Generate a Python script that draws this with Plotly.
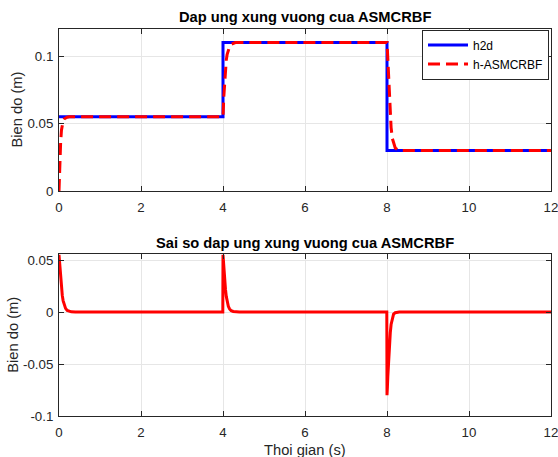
import plotly.graph_objects as go

# ---------------- data ----------------
t_ref = [0, 4, 4, 8, 8, 12]
h2d = [0.055, 0.055, 0.11, 0.11, 0.03, 0.03]

t_h = [0, 0.01, 0.02, 0.04, 0.06, 0.08, 0.1, 0.13, 0.16, 0.2, 0.25, 0.3, 3.99,
       4.0, 4.02, 4.04, 4.06, 4.08, 4.1, 4.13, 4.16, 4.2, 4.25, 4.3, 7.99,
       8.0, 8.02, 8.04, 8.06, 8.08, 8.1, 8.13, 8.16, 8.2, 8.25, 8.3, 12]
h_asm = [0, 0.012, 0.022, 0.036, 0.045, 0.049, 0.052, 0.0535, 0.0543, 0.0547, 0.055, 0.055, 0.055,
         0.055, 0.07, 0.082, 0.091, 0.097, 0.101, 0.105, 0.107, 0.1087, 0.1095, 0.11, 0.11,
         0.11, 0.098, 0.083, 0.068, 0.056, 0.047, 0.039, 0.035, 0.032, 0.0307, 0.030, 0.030]

t_e = [0, 0.02, 0.04, 0.06, 0.08, 0.1, 0.13, 0.16, 0.2, 0.25, 0.3, 0.4, 3.995,
       4.0, 4.02, 4.04, 4.06, 4.08, 4.1, 4.13, 4.16, 4.2, 4.25, 4.3, 4.4, 7.995,
       8.0, 8.01, 8.02, 8.03, 8.04, 8.05, 8.06, 8.08, 8.1, 8.13, 8.16, 8.2, 8.3, 12]
err = [0.055, 0.043, 0.032, 0.024, 0.016, 0.011, 0.006, 0.0035, 0.0015, 0.0006, 0.0002, 0, 0,
       0.055, 0.042, 0.031, 0.022, 0.015, 0.010, 0.0055, 0.003, 0.0013, 0.0005, 0.0002, 0, 0,
       -0.08, -0.072, -0.062, -0.052, -0.043, -0.036, -0.03, -0.02, -0.012, -0.005, -0.002, -0.0007, 0, 0]

x_ticks = [0, 2, 4, 6, 8, 10, 12]
y1_ticks = [0, 0.05, 0.1]
y1_labels = ["0", "0.05", "0.1"]
y2_ticks = [-0.1, -0.05, 0, 0.05]
y2_labels = ["-0.1", "-0.05", "0", "0.05"]

title1 = "Dap ung xung vuong cua ASMCRBF"
title2 = "Sai so dap ung xung vuong cua ASMCRBF"
ylab = "Bien do (m)"
xlab = "Thoi gian (s)"

# ---------------- layout geometry ----------------
W, H = 558, 457
L, R = 59, 551
T1, B1 = 29, 191
T2, B2 = 254, 416


def py(p):
    return 1 - p / H


def px(p):
    return p / W


FONT = "Liberation Sans, Arial, Helvetica, sans-serif"
AX = "#262626"

fig = go.Figure()
fig.add_trace(go.Scatter(x=t_ref, y=h2d, mode="lines", name="h2d",
                         line=dict(color="#0000ff", width=3), xaxis="x", yaxis="y"))
fig.add_trace(go.Scatter(x=t_h, y=h_asm, mode="lines", name="h-ASMCRBF",
                         line=dict(color="#ff0000", width=3, dash="12px,6px"),
                         xaxis="x", yaxis="y"))
fig.add_trace(go.Scatter(x=t_e, y=err, mode="lines", showlegend=False,
                         line=dict(color="#ff0000", width=3), xaxis="x2", yaxis="y2"))

common_x = dict(range=[0, 12], tickvals=x_ticks, ticks="inside", ticklen=5,
                tickcolor=AX, showline=True, linecolor=AX, linewidth=1, mirror="ticks",
                showgrid=True, gridcolor="#e6e6e6", gridwidth=1, zeroline=False,
                tickfont=dict(family=FONT, size=13.3, color=AX), ticklabelstandoff=4,
                automargin=False, ticklabeloverflow="allow",
                domain=[px(L), px(R)])
common_y = dict(ticks="inside", ticklen=5, tickcolor=AX, showline=True, linecolor=AX,
                linewidth=1, mirror="ticks", showgrid=True, gridcolor="#e6e6e6",
                gridwidth=1, zeroline=False, automargin=False, ticklabeloverflow="allow",
                tickfont=dict(family=FONT, size=13.3, color=AX), ticklabelstandoff=2)

fig.update_layout(
    width=W, height=H, margin=dict(l=0, r=0, t=0, b=0, autoexpand=False),
    paper_bgcolor="white", plot_bgcolor="white",
    xaxis=dict(**common_x, anchor="y"),
    yaxis=dict(**common_y, range=[0, 0.12], tickvals=y1_ticks, ticktext=y1_labels,
               domain=[py(B1), py(T1)], anchor="x"),
    xaxis2=dict(**common_x, anchor="y2"),
    yaxis2=dict(**common_y, range=[-0.1, 0.0558], tickvals=y2_ticks, ticktext=y2_labels,
                domain=[py(B2), py(T2)], anchor="x2"),
    legend=dict(x=px(549), y=py(29.5), xanchor="right", yanchor="top",
                bgcolor="white", bordercolor=AX, borderwidth=1,
                font=dict(family=FONT, size=12, color="black"),
                tracegroupgap=0, itemwidth=40),
    showlegend=True,
)

ann = [
    dict(text="<b>" + title1 + "</b>", x=px((L + R) / 2), y=py(17.5)),
    dict(text="<b>" + title2 + "</b>", x=px((L + R) / 2), y=py(243)),
]
for a in ann:
    fig.add_annotation(xref="paper", yref="paper", showarrow=False,
                       xanchor="center", yanchor="middle",
                       font=dict(family=FONT, size=14.7, color="black"), **a)

fig.add_annotation(text=ylab, xref="paper", yref="paper", x=px(16.5), y=py((T1 + B1) / 2),
                   textangle=-90, showarrow=False, xanchor="center", yanchor="middle",
                   font=dict(family=FONT, size=14.7, color=AX))
fig.add_annotation(text=ylab, xref="paper", yref="paper", x=px(12.7), y=py((T2 + B2) / 2),
                   textangle=-90, showarrow=False, xanchor="center", yanchor="middle",
                   font=dict(family=FONT, size=14.7, color=AX))
fig.add_annotation(text=xlab, xref="paper", yref="paper", x=px((L + R) / 2), y=py(450),
                   showarrow=False, xanchor="center", yanchor="middle",
                   font=dict(family=FONT, size=14.7, color=AX))

fig.write_html("out.html")
